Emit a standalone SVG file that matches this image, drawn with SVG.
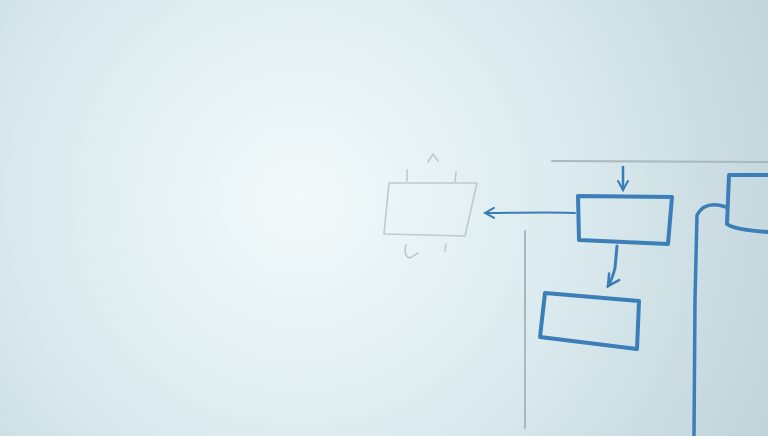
<svg xmlns="http://www.w3.org/2000/svg" width="768" height="436" viewBox="0 0 768 436">
<defs>
<radialGradient id="bg" cx="300" cy="200" r="520" gradientUnits="userSpaceOnUse">
<stop offset="0" stop-color="#f3fafb"/>
<stop offset="0.5" stop-color="#dcebef"/>
<stop offset="1" stop-color="#c0d4da"/>
</radialGradient>
<marker id="ah" viewBox="0 0 12 12" refX="10" refY="6" markerWidth="12" markerHeight="12" markerUnits="userSpaceOnUse" orient="auto">
<path d="M1,1 L10,6 L1,11" fill="none" stroke="#3a7cb6" stroke-width="2" stroke-linecap="round"/>
</marker>
<marker id="ah2" viewBox="0 0 16 16" refX="13" refY="8" markerWidth="16" markerHeight="16" markerUnits="userSpaceOnUse" orient="auto">
<path d="M2,2 L13,8 L2,14" fill="none" stroke="#3a7cb6" stroke-width="2.5" stroke-linecap="round"/>
</marker>
</defs>
<style>
.blue{fill:none;stroke:#3b7eb8;stroke-width:4;stroke-linecap:round;stroke-linejoin:round}
.thin{fill:none;stroke:#3a7cb6;stroke-width:2;stroke-linecap:round}
.grey{fill:none;stroke:#a8b8bf;stroke-width:2;stroke-linecap:round}
.faint{fill:none;stroke:#bcc9ce;stroke-width:1.6;stroke-linecap:round;stroke-linejoin:round}
</style>
<rect width="768" height="436" fill="url(#bg)"/>
<g id="faint-node">
<path class="faint" d="M389,183 L477,183 L465,236 L384,234 Z"/>
<path class="faint" d="M428,162 L433,154 L438,161"/>
<path class="faint" d="M407,170 L407,181 M456,172 L455,182"/>
<path class="faint" d="M406,245 Q403,256 410,258 L418,253 M446,244 L445,251"/>
</g>
<g id="box1"><path class="blue" d="M578,196 L672,197 L668,244 L579,240 Z"/></g>
<g id="box2"><path class="blue" d="M545,293 L639,301 L637,349 L540,337 Z"/></g>
<g id="box3"><path class="blue" d="M768,175 L729,175 L727,224 Q735,230 768,232"/></g>
<g id="connectors">
<path class="grey" d="M552,161 L768,162"/>
<path class="grey" d="M525,231 L525,428"/>
<path class="thin" d="M575,213 Q560,212 485,213" marker-end="url(#ah)"/>
<path class="thin" d="M623,167 L623,190" marker-end="url(#ah)" style="stroke-width:2.5"/>
<path class="blue" style="stroke-width:3" d="M617,246 L615,268 Q612,280 608,286" marker-end="url(#ah2)"/>
<path class="blue" style="stroke-width:3.5" d="M726,207 Q705,200 697,215 L695,300 L694,436"/>
</g>
</svg>
